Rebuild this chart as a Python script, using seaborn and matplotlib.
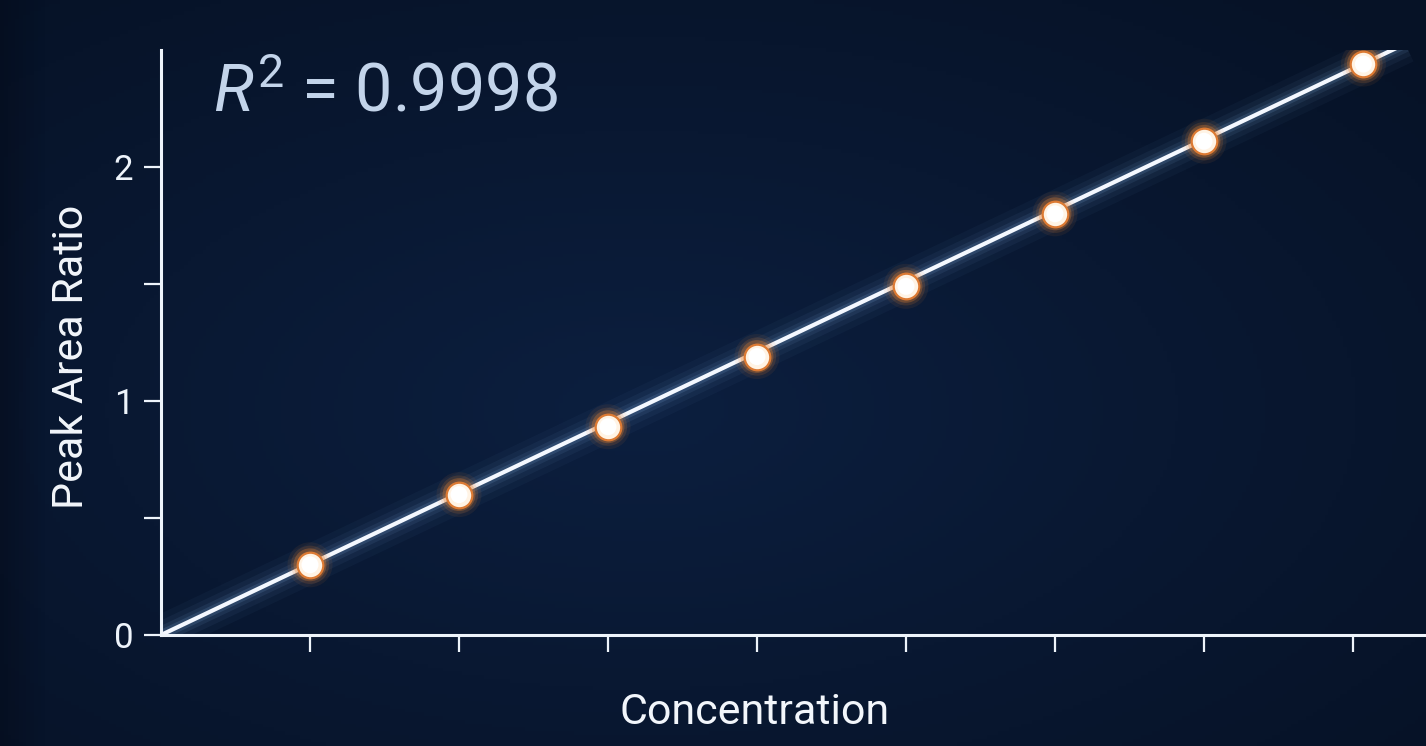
import numpy as np
import pandas as pd
import seaborn as sns
import matplotlib
matplotlib.use("Agg")
import matplotlib.pyplot as plt
from matplotlib.colors import LinearSegmentedColormap

# ---- data ----
concentration = [1, 2, 3, 4, 5, 6, 7, 8.07]
peak_area_ratio = [0.30, 0.60, 0.89, 1.19, 1.49, 1.80, 2.11, 2.44]
r2_text = "0.9998"
x_label = "Concentration"
y_label = "Peak Area Ratio"
x_ticks = [1, 2, 3, 4, 5, 6, 7, 8]
y_ticks_major = [0, 1, 2]
y_ticks_minor = [0.5, 1.5]
fit_x_max = 8.35

df = pd.DataFrame({"conc": concentration, "ratio": peak_area_ratio})

sns.set_theme(style="dark")
plt.rcParams["font.family"] = ["Roboto", "DejaVu Sans"]
plt.rcParams["mathtext.fontset"] = "custom"
plt.rcParams["mathtext.it"] = "Roboto:italic"
plt.rcParams["mathtext.rm"] = "Roboto"

W, H = 1426, 746
fig = plt.figure(figsize=(W / 100, H / 100), dpi=100)

# background gradient
bg = fig.add_axes([0, 0, 1, 1], zorder=-10)
yy, xx = np.mgrid[0:1:200j, 0:1:380j]
d = np.sqrt(((xx - 0.45) / 0.75) ** 2 + ((yy - 0.45) / 0.75) ** 2)
d = np.clip(d, 0, 1)
cmap = LinearSegmentedColormap.from_list("bgc", ["#0c1f3f", "#091832", "#061226"])
bg.imshow(d, cmap=cmap, aspect="auto", extent=[0, 1, 0, 1], origin="lower")
edge = np.tile(np.clip(xx[0] / 0.03, 0, 1), (200, 1))
bg.imshow(np.dstack([np.full_like(edge, 0.02), np.full_like(edge, 0.05),
                     np.full_like(edge, 0.11), (1 - edge) * 0.6]),
          aspect="auto", extent=[0, 1, 0, 1], origin="lower")
bg.set_axis_off()

ax = fig.add_axes([161 / W, 1 - 635 / H, 1 - 161 / W, (635 - 50) / H])
ax.set_facecolor("none")
ax.patch.set_alpha(0)

# fit line
slope, intercept = np.polyfit(df["conc"], df["ratio"], 1)
fx = np.linspace(0, fit_x_max, 50)
fit_df = pd.DataFrame({"x": fx, "y": slope * fx})

for lw, a in [(28, 0.04), (19, 0.06), (12, 0.09), (7, 0.15)]:
    sns.lineplot(data=fit_df, x="x", y="y", ax=ax, color="#86b6ea", lw=lw,
                 alpha=a, solid_capstyle="butt", zorder=3)
sns.lineplot(data=fit_df, x="x", y="y", ax=ax, color="#f4f8ff", lw=3.0,
             solid_capstyle="butt", zorder=4)

# markers with orange glow
for s, a in [(1050, 0.08), (760, 0.15), (560, 0.30)]:
    sns.scatterplot(data=df, x="conc", y="ratio", ax=ax, s=s, color="#e8822e",
                    alpha=a, edgecolor="none", linewidth=0, zorder=5)
sns.scatterplot(data=df, x="conc", y="ratio", ax=ax, s=340, color="#fff3e4",
                edgecolor="#dc7a33", linewidth=1.6, zorder=6)
sns.scatterplot(data=df, x="conc", y="ratio", ax=ax, s=150, color="#ffffff",
                edgecolor="none", linewidth=0, zorder=7)

ax.set_xlim(0, (W - 161) / 149.0)
ax.set_ylim(0, 2.5)

for side in ["top", "right"]:
    ax.spines[side].set_visible(False)
for side in ["left", "bottom"]:
    ax.spines[side].set_visible(True)
    ax.spines[side].set_color("#eef4fb")
    ax.spines[side].set_linewidth(2.2)
    ax.spines[side].set_zorder(8)

ax.set_xticks(x_ticks)
ax.set_xticklabels([])
ax.set_yticks(y_ticks_major)
ax.set_yticklabels([str(v) for v in y_ticks_major])
ax.set_yticks(y_ticks_minor, minor=True)
ax.tick_params(axis="both", which="both", direction="out", length=12, width=1.6,
               color="#eef4fb", bottom=True, left=True)
ax.tick_params(axis="y", which="major", labelsize=25, labelcolor="#eef4fb", pad=8)
ax.grid(False)
ax.set_xlabel("")
ax.set_ylabel("")

fig.text(755 / W, 1 - 712 / H, x_label, fontsize=31, color="#f2f6fb",
         ha="center", va="center")
fig.text(72 / W, 1 - 357 / H, y_label, fontsize=31, color="#f2f6fb",
         ha="center", va="center", rotation=90)

fig.text(213 / W, 1 - 112 / H, r"$R^2$ = " + r2_text, fontsize=48,
         color="#c3d4ea", ha="left", va="baseline")

fig.savefig("out.png", dpi=100)
